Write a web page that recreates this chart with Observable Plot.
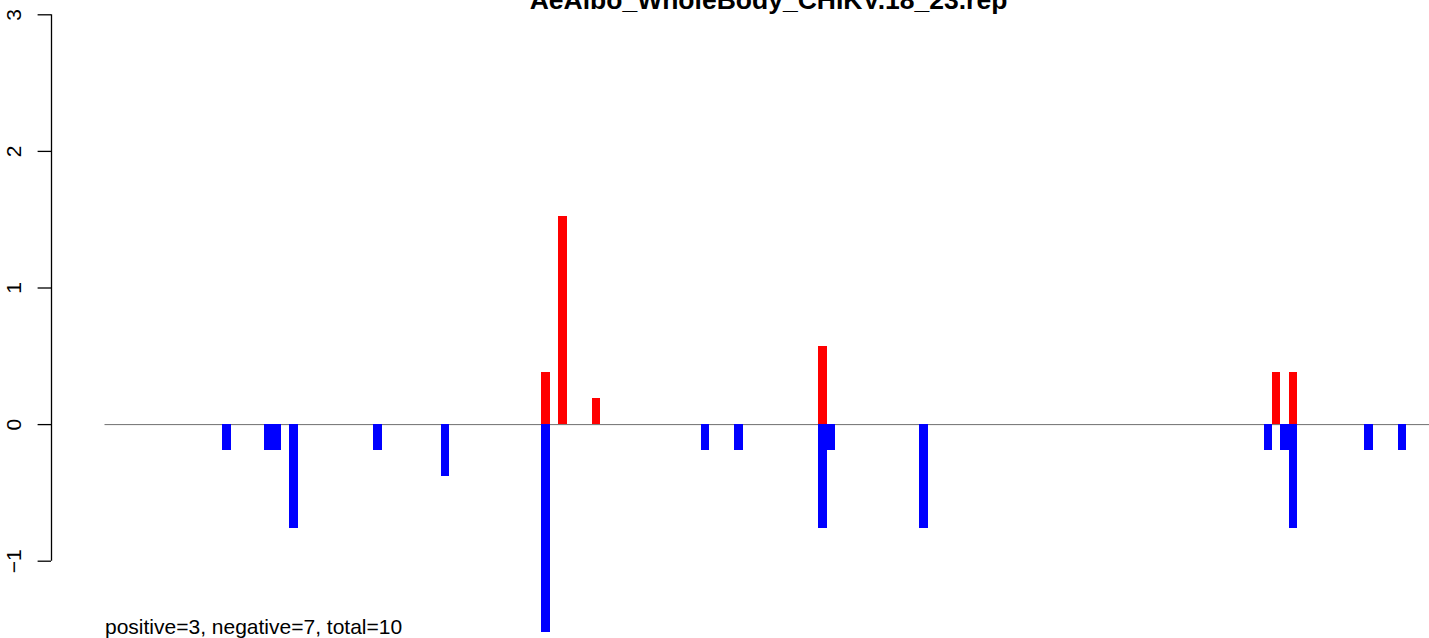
<!DOCTYPE html>
<html><head><meta charset="utf-8">
<script src="https://cdn.jsdelivr.net/npm/d3@7"></script>
<script src="https://cdn.jsdelivr.net/npm/@observablehq/plot@0.6"></script>
<style>
html,body{margin:0;padding:0;background:#fff;overflow:hidden}
</style></head><body><div id="chart"></div>
<script>
const title = "AeAlbo_WholeBody_CHIKV.18_23.rep";
const caption = "positive=3, negative=7, total=10";
const yTicks = [-1, 0, 1, 2, 3];
// slot index (bar position) and value of each bar
const negSlots = [14, 19, 20, 22, 32, 40, 52, 71, 75, 85, 86, 97, 138, 140, 141, 150, 154];
const negValues = [-0.19, -0.19, -0.19, -0.76, -0.19, -0.38, -1.52, -0.19, -0.19, -0.76, -0.19, -0.76, -0.19, -0.19, -0.76, -0.19, -0.19];
const posSlots = [52, 54, 58, 85, 139, 141];
const posValues = [0.38, 1.52, 0.19, 0.57, 0.38, 0.38];
const xDomain = [-6.37, 157.68];

const neg = negSlots.map((s, i) => ({slot: s, value: negValues[i]}));
const pos = posSlots.map((s, i) => ({slot: s, value: posValues[i]}));

const chart = Plot.plot({
  width: 1429, height: 638,
  marginLeft: 51, marginRight: 0, marginTop: 0, marginBottom: 0,
  style: {fontFamily: "'Liberation Sans', Arial, sans-serif", fontSize: "21px", background: "#fff", color: "#000", overflow: "hidden"},
  x: {domain: xDomain, axis: null},
  y: {domain: [-1, 3], range: [560.7, 14.3], axis: null},
  marks: [
    Plot.ruleY([0], {x1: () => 0, x2: () => xDomain[1], stroke: "#707070", strokeWidth: 1}),
    Plot.rect(pos, {x1: "slot", x2: d => d.slot + 1, y1: () => 0, y2: "value", fill: "#ff0000", shapeRendering: "crispEdges"}),
    Plot.rect(neg, {x1: "slot", x2: d => d.slot + 1, y1: () => 0, y2: "value", fill: "#0000ff", shapeRendering: "crispEdges"}),
    Plot.axisY({ticks: yTicks, tickFormat: d3.format("d"), label: null, tickSize: 13.4, tickPadding: 17, tickRotate: -90, stroke: "#000", strokeWidth: 1.3, fill: "#000", fontSize: 21}),
    Plot.ruleX([xDomain[0]], {y1: () => -1, y2: () => 3, stroke: "#000", strokeWidth: 1.3}),
    Plot.text([title], {frameAnchor: "top", dx: 28, dy: 8, lineAnchor: "bottom", fontWeight: "bold", fontSize: 26.5, fill: "#000"}),
    Plot.text([caption], {x: () => 0, frameAnchor: "bottom", dy: -5, textAnchor: "start", lineAnchor: "bottom", fontSize: 21, fill: "#000"})
  ]
});
document.getElementById("chart").appendChild(chart);
</script></body></html>
